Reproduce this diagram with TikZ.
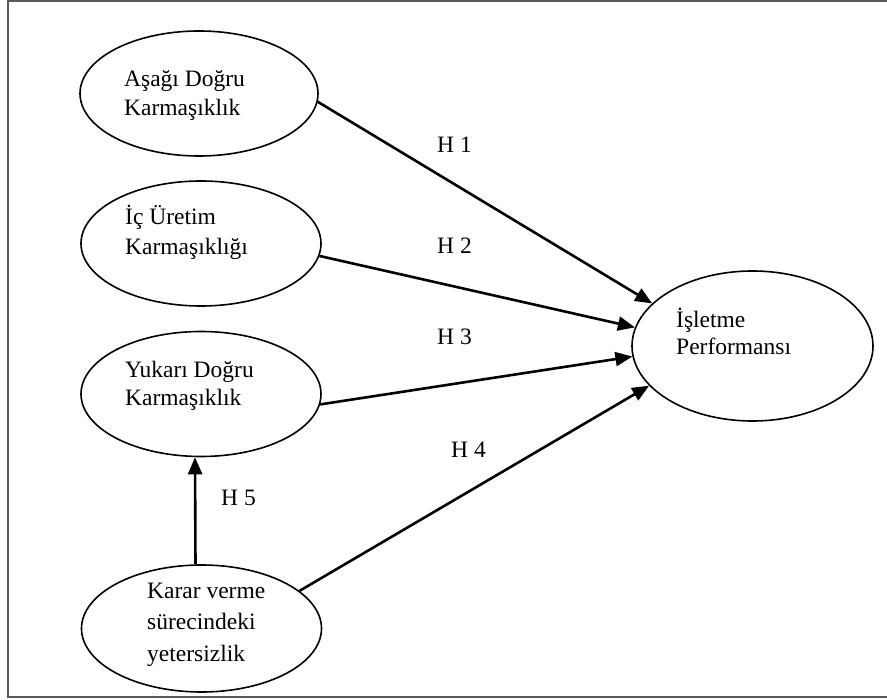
\documentclass[tikz,border=0pt]{standalone}
\usepackage{fontspec}
\setmainfont{Liberation Serif}
\usetikzlibrary{shapes.geometric,arrows.meta}

\begin{document}
\begin{tikzpicture}[
  x=1pt, y=-1pt,
  font=\fontsize{23.5}{30}\selectfont,
  >={Triangle[length=17pt,width=14pt]},
  blob/.style={ellipse, draw=black, line width=1.6pt, inner sep=0pt,
    minimum width=240pt, minimum height=125pt},
  txt/.style={align=left, inner sep=0pt, anchor=base west},
  hyp/.style={inner sep=0pt, anchor=base west},
  arrow/.style={->, line width=2.6pt, draw=black}
]
\useasboundingbox (0,0) rectangle (887,700);

% ------------------------------------------------------------
% Frame
% ------------------------------------------------------------
\draw[line width=1.8pt, black!65] (892,1) -- (8,1) -- (8,697) -- (892,697);

% ------------------------------------------------------------
% Left: constructs
% ------------------------------------------------------------
\node[blob, minimum width=238pt] (ad) at (199,93.5) {};
\node[blob]                      (ic) at (201,243.5) {};
\node[blob]                      (yk) at (201,394) {};
\node[blob, minimum height=127pt] (kv) at (201.5,628.5) {};

% base anchor sits on the last line
\node[txt] (tad) at (124,116) {Aşağı Doğru\\[-1pt]Karmaşıklık};
\node[txt] (tic) at (125,255) {İç Üretim\\Karmaşıklığı};
\node[txt] (tyk) at (125,406) {Yukarı Doğru\\[-2pt]Karmaşıklık};
\node[txt] (tkv) at (147,661) {Karar verme\\[1.5pt]sürecindeki\\[1.5pt]yetersizlik};

% ------------------------------------------------------------
% Right: performance
% ------------------------------------------------------------
\node[blob, minimum width=241pt, minimum height=150pt] (ip) at (752.5,346) {};
\node[txt] (tip) at (676,355) {İşletme\\[-2.5pt]Performansı};

% ------------------------------------------------------------
% Hypotheses
% ------------------------------------------------------------
\draw[arrow] (ad.-4) -- (ip.157);
\draw[arrow] (ic.-6) -- (ip.171);
\draw[arrow] (yk.-5) -- (ip.185);
\draw[arrow] (kv.21) -- (ip.201);
\draw[arrow] ([xshift=-6pt]kv.north) -- ([xshift=-6pt]yk.south);

\node[hyp] (h1) at (437,153) {H 1};
\node[hyp] (h2) at (437,254) {H 2};
\node[hyp] (h3) at (437,345) {H 3};
\node[hyp] (h4) at (451,458) {H 4};
\node[hyp] (h5) at (221,506) {H 5};

\end{tikzpicture}
\end{document}
